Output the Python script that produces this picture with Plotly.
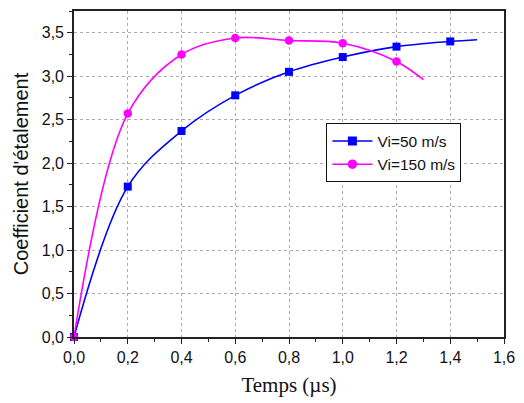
import plotly.graph_objects as go

# Spreading coefficient versus time for two impact velocities
t_50 = [0.0, 0.2, 0.4, 0.6, 0.8, 1.0, 1.2, 1.4, 1.5]
k_50 = [0.0, 1.73, 2.37, 2.78, 3.05, 3.22, 3.34, 3.40, 3.42]
t_150 = [0.0, 0.2, 0.4, 0.6, 0.8, 1.0, 1.2, 1.3]
k_150 = [0.0, 2.57, 3.25, 3.44, 3.41, 3.38, 3.17, 2.96]

names = ["Vi=50 m/s", "Vi=150 m/s"]
colors = ["#0000ff", "#ff00ff"]
symbols = ["square", "circle"]
msizes = [8, 8.5]

fig = go.Figure()
for t, k, name, col, sym, ms in zip([t_50, t_150], [k_50, k_150], names, colors, symbols, msizes):
    # fitted curve, running past the last measured point
    fig.add_trace(go.Scatter(
        x=t, y=k, mode="lines", showlegend=False, hoverinfo="skip",
        line=dict(color=col, width=1.6, shape="spline", smoothing=1.0),
    ))
    # measured points (the curve's end point carries no marker)
    fig.add_trace(go.Scatter(
        x=t[:-1], y=k[:-1], mode="markers", showlegend=False, name=name,
        marker=dict(symbol=sym, size=ms, color=col), cliponaxis=False,
    ))
    # legend entry: line with marker
    fig.add_trace(go.Scatter(
        x=[None], y=[None], mode="lines+markers", name=name,
        line=dict(color=col, width=1.6),
        marker=dict(symbol=sym, size=ms + 1, color=col),
    ))

axis_common = dict(
    showline=True, linecolor="#222222", linewidth=1.6, mirror=True,
    ticks="outside", ticklen=5, tickcolor="#222222", tickwidth=1,
    showgrid=True, gridcolor="#aaaaaa", griddash="dot", gridwidth=1,
    zeroline=False, tickformat=".1f",
    tickfont=dict(family="Liberation Sans, Arial", size=16, color="#111111"),
)

fig.update_xaxes(
    range=[0, 1.6], dtick=0.2, tick0=0,
    minor=dict(dtick=0.1, ticks="outside", ticklen=3, tickcolor="#222222", showgrid=False),
    title=dict(text="Temps (µs)", font=dict(family="Liberation Serif, Times New Roman", size=21, color="#111111"), standoff=12),
    **axis_common,
)
fig.update_yaxes(
    range=[0, 3.75], dtick=0.5, tick0=0,
    minor=dict(dtick=0.25, ticks="outside", ticklen=3, tickcolor="#222222", showgrid=False),
    title=dict(text="Coefficient d'étalement", font=dict(family="Liberation Sans, Arial", size=20, color="#111111"), standoff=8),
    **axis_common,
)

fig.update_layout(
    width=524, height=403,
    margin=dict(l=74, r=14, t=9, b=66),
    paper_bgcolor="white", plot_bgcolor="white",
    separators=", ",
    showlegend=True,
    legend=dict(
        x=0.587, y=0.655, xanchor="left", yanchor="top",
        bordercolor="#111111", borderwidth=1, bgcolor="white",
        font=dict(family="Liberation Sans, Arial", size=15.5, color="#111111"),
        tracegroupgap=0, itemwidth=40,
    ),
)

fig.write_html("out.html")
